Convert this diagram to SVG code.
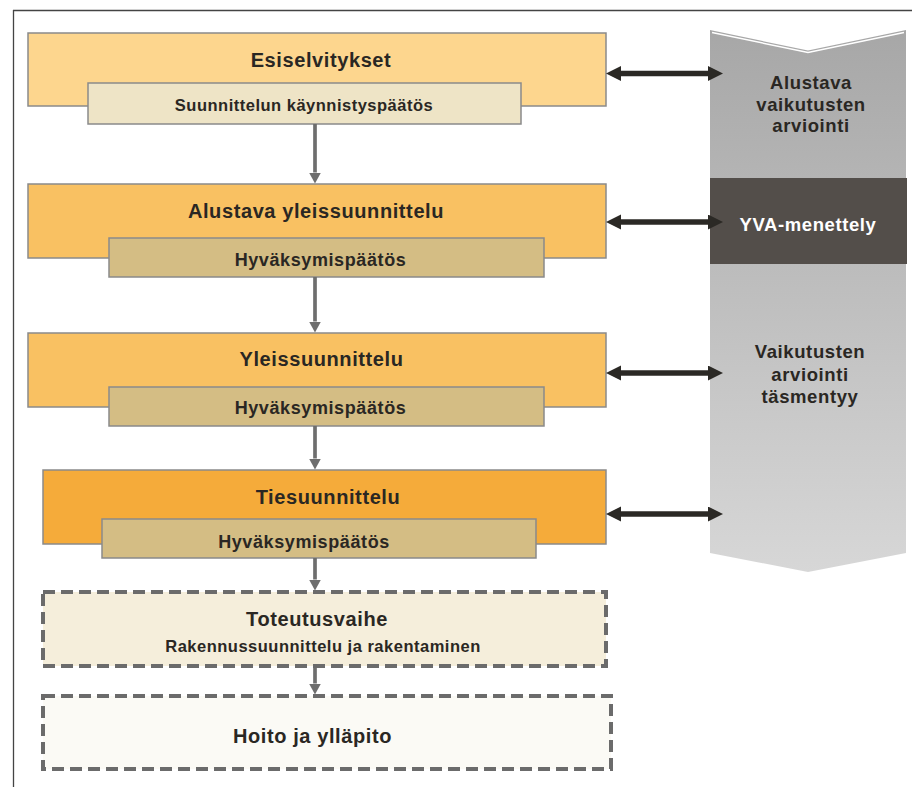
<svg xmlns="http://www.w3.org/2000/svg" width="912" height="787" viewBox="0 0 912 787">
<style>
.box{stroke:#8a8a8a;stroke-width:1.5}
.dash{stroke:#6b6b6b;stroke-width:4;stroke-dasharray:12 6}
.t{font-family:"Liberation Sans",Arial,sans-serif;font-weight:bold;fill:#2a2723;text-anchor:middle}
.title{font-size:20px;letter-spacing:0.6px}
.sub{font-size:16.5px;letter-spacing:0.5px}
.hyv{font-size:18px;letter-spacing:0.6px}
.side{font-size:18.5px;letter-spacing:0.6px}
.v{stroke:#6e6e6e;stroke-width:3.7;fill:none}
.h{stroke:#2b2925;stroke-width:5.5;fill:none}
</style>
<defs>
<linearGradient id="gr" x1="0" y1="30" x2="0" y2="572" gradientUnits="userSpaceOnUse">
<stop offset="0" stop-color="#a7a7a7"/>
<stop offset="1" stop-color="#d7d7d7"/>
</linearGradient>
<marker id="av" markerUnits="userSpaceOnUse" markerWidth="12" markerHeight="12" refX="0" refY="6" orient="auto">
<path d="M0,0 L11,6 L0,12 z" fill="#6e6e6e"/>
</marker>
<marker id="ah" markerUnits="userSpaceOnUse" markerWidth="16" markerHeight="16" refX="0" refY="7.5" orient="auto-start-reverse">
<path d="M0,0 L15,7.5 L0,15 z" fill="#2b2925"/>
</marker>
</defs>
<rect width="912" height="787" fill="#ffffff"/>
<g id="frame" stroke="#444" stroke-width="1.3">
<line x1="13" y1="10.5" x2="912" y2="10.5"/>
<line x1="13.5" y1="10" x2="13.5" y2="787"/>
</g>
<g id="vaikutukset">
<path d="M710,30 L808,50.5 L906,30 L906,553 L808,572 L710,553 z" fill="url(#gr)"/>
<polyline points="712,32.5 808,52.5 904,32.5" fill="none" stroke="#ffffff" stroke-width="1.5"/>
<text class="t side" x="811" y="88.5">Alustava</text>
<text class="t side" x="811" y="110.5">vaikutusten</text>
<text class="t side" x="811" y="132">arviointi</text>
<text class="t side" x="810" y="358">Vaikutusten</text>
<text class="t side" x="810" y="380.5">arviointi</text>
<text class="t side" x="810" y="403">täsmentyy</text>
</g>
<g id="yva">
<rect x="710" y="178" width="197" height="86" fill="#534e4a"/>
<text class="t side" x="808" y="230.5" style="fill:#ffffff">YVA-menettely</text>
</g>
<g id="esiselvitykset">
<rect class="box" x="28" y="33" width="578" height="73" fill="#fdd68e"/>
<text class="t title" x="321" y="66.7">Esiselvitykset</text>
</g>
<g id="kaynnistyspaatos">
<rect class="box" x="88" y="83" width="433" height="41" fill="#eee4c6"/>
<text class="t sub" x="304" y="110.5">Suunnittelun käynnistyspäätös</text>
</g>
<g id="alustava">
<rect class="box" x="28" y="184" width="578" height="74" fill="#f9c162"/>
<text class="t title" x="316" y="217.7">Alustava yleissuunnittelu</text>
</g>
<g id="hyv1">
<rect class="box" x="109" y="238" width="435" height="39" fill="#d4bd84"/>
<text class="t hyv" x="320.5" y="265.5">Hyväksymispäätös</text>
</g>
<g id="yleis">
<rect class="box" x="28" y="333" width="578" height="74" fill="#f9c162"/>
<text class="t title" x="321.5" y="366">Yleissuunnittelu</text>
</g>
<g id="hyv2">
<rect class="box" x="109" y="387" width="435" height="39" fill="#d4bd84"/>
<text class="t hyv" x="320.5" y="414">Hyväksymispäätös</text>
</g>
<g id="ties">
<rect class="box" x="43" y="470" width="563" height="74" fill="#f5ab3a"/>
<text class="t title" x="328" y="503.5">Tiesuunnittelu</text>
</g>
<g id="hyv3">
<rect class="box" x="102" y="519" width="434" height="39" fill="#d4bd84"/>
<text class="t hyv" x="304" y="547.5">Hyväksymispäätös</text>
</g>
<g id="toteutus">
<rect class="dash" x="43" y="592" width="563" height="74" fill="#f5eedb"/>
<text class="t title" x="317" y="626">Toteutusvaihe</text>
<text class="t sub" x="323" y="652">Rakennussuunnittelu ja rakentaminen</text>
</g>
<g id="hoito">
<rect class="dash" x="43" y="696" width="568" height="73" fill="#fbfaf5"/>
<text class="t title" x="312.5" y="743.3">Hoito ja ylläpito</text>
</g>
<g id="connectors">
<line class="v" x1="315" y1="124" x2="315" y2="172.5" marker-end="url(#av)"/>
<line class="v" x1="315" y1="277" x2="315" y2="321.5" marker-end="url(#av)"/>
<line class="v" x1="315" y1="426" x2="315" y2="458.5" marker-end="url(#av)"/>
<line class="v" x1="315" y1="558" x2="315" y2="579.5" marker-end="url(#av)"/>
<line class="v" x1="315" y1="668" x2="315" y2="683.5" marker-end="url(#av)"/>
<line class="h" x1="621" y1="73.5" x2="708" y2="73.5" marker-start="url(#ah)" marker-end="url(#ah)"/>
<line class="h" x1="621" y1="222" x2="708" y2="222" marker-start="url(#ah)" marker-end="url(#ah)"/>
<line class="h" x1="621" y1="373" x2="708" y2="373" marker-start="url(#ah)" marker-end="url(#ah)"/>
<line class="h" x1="621" y1="514" x2="708" y2="514" marker-start="url(#ah)" marker-end="url(#ah)"/>
</g>
</svg>
